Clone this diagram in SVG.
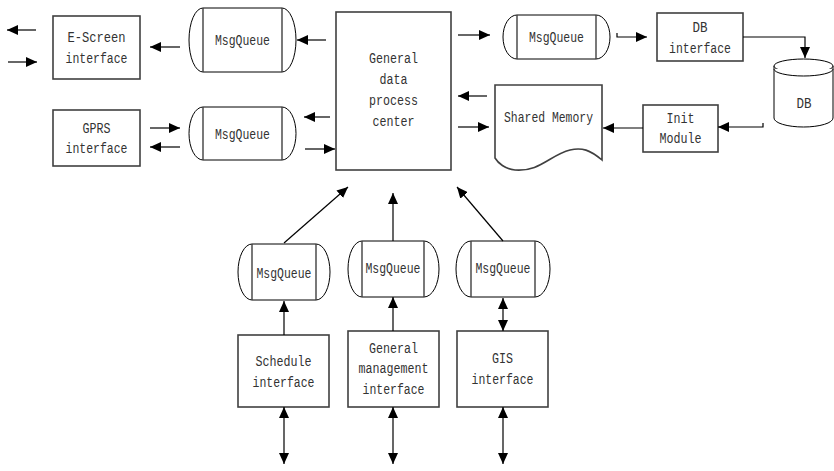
<svg xmlns="http://www.w3.org/2000/svg" width="834" height="471" viewBox="0 0 834 471">
<style>
.box{fill:#fff;stroke:#404040;stroke-width:1.6}
.q{fill:#fff;stroke:#000;stroke-width:1}
.qi{stroke:#404040;stroke-width:1.4}
.c{fill:none;stroke:#000;stroke-width:1.2}
text{font-family:"Liberation Mono","DejaVu Sans Mono",monospace;font-size:15.5px;fill:#333;text-anchor:middle}
</style>
<defs>
<marker id="ah" viewBox="0 0 11 10" refX="11" refY="5" markerWidth="11" markerHeight="10" markerUnits="userSpaceOnUse" orient="auto-start-reverse">
<path d="M0,0 L11,5 L0,10 Z" fill="#000"/>
</marker>
</defs>
<rect width="834" height="471" fill="#fff"/>

<g id="escreen">
<rect class="box" x="53" y="16" width="87" height="63"/>
<text x="96.5" y="42" textLength="58" lengthAdjust="spacingAndGlyphs">E-Screen</text>
<text x="96.5" y="63" textLength="62" lengthAdjust="spacingAndGlyphs">interface</text>
</g>
<g id="gprs">
<rect class="box" x="53" y="110" width="87" height="56"/>
<text x="96.5" y="133" textLength="28" lengthAdjust="spacingAndGlyphs">GPRS</text>
<text x="96.5" y="153" textLength="62" lengthAdjust="spacingAndGlyphs">interface</text>
</g>
<g id="mq1">
<path class="q" d="M203,8 H282 A14,32 0 0 1 282,72 H203 A14,32 0 0 1 203,8 Z"/>
<path class="qi" d="M203,8 V72 M282,8 V72"/>
<text x="242.5" y="45" textLength="55" lengthAdjust="spacingAndGlyphs">MsgQueue</text>
</g>
<g id="mq2">
<path class="q" d="M203,107 H282 A14,26.5 0 0 1 282,160 H203 A14,26.5 0 0 1 203,107 Z"/>
<path class="qi" d="M203,107 V160 M282,107 V160"/>
<text x="242.5" y="139" textLength="55" lengthAdjust="spacingAndGlyphs">MsgQueue</text>
</g>
<g id="center">
<rect class="box" x="336" y="12" width="115" height="158"/>
<text x="393.5" y="63" textLength="49" lengthAdjust="spacingAndGlyphs">General</text>
<text x="393.5" y="84" textLength="28" lengthAdjust="spacingAndGlyphs">data</text>
<text x="393.5" y="105" textLength="49" lengthAdjust="spacingAndGlyphs">process</text>
<text x="393.5" y="126" textLength="42" lengthAdjust="spacingAndGlyphs">center</text>
</g>
<g id="mq3">
<path class="q" d="M517,15 H596 A14,22 0 0 1 596,59 H517 A14,22 0 0 1 517,15 Z"/>
<path class="qi" d="M517,15 V59 M596,15 V59"/>
<text x="556.5" y="42" textLength="55" lengthAdjust="spacingAndGlyphs">MsgQueue</text>
</g>
<g id="sharedmem">
<path class="box" d="M495,85 H602 V160 C590,150 582,147 570,150 C550,155 540,172 515,170 C505,169 498,163 495,158 Z"/>
<text x="548.5" y="122" textLength="89" lengthAdjust="spacingAndGlyphs">Shared Memory</text>
</g>
<g id="dbif">
<rect class="box" x="657" y="13" width="86" height="48"/>
<text x="700" y="32" textLength="15" lengthAdjust="spacingAndGlyphs">DB</text>
<text x="700" y="53" textLength="62" lengthAdjust="spacingAndGlyphs">interface</text>
</g>
<g id="db">
<path class="q" d="M774,66 V118 A29.5,9 0 0 0 833,118 V66"/>
<ellipse class="q" cx="803.5" cy="66" rx="29.5" ry="7"/>
<path class="q" fill="none" d="M774,69 A29.5,7 0 0 0 833,69"/>
<text x="804" y="108" textLength="15" lengthAdjust="spacingAndGlyphs">DB</text>
</g>
<g id="init">
<rect class="box" x="643" y="105" width="75" height="47"/>
<text x="680.5" y="123" textLength="28" lengthAdjust="spacingAndGlyphs">Init</text>
<text x="680.5" y="143" textLength="42" lengthAdjust="spacingAndGlyphs">Module</text>
</g>
<g id="mq4">
<path class="q" d="M252,244 H316 A14,28 0 0 1 316,300 H252 A14,28 0 0 1 252,244 Z"/>
<path class="qi" d="M252,244 V300 M316,244 V300"/>
<text x="284" y="278" textLength="55" lengthAdjust="spacingAndGlyphs">MsgQueue</text>
</g>
<g id="mq5">
<path class="q" d="M362,241 H424 A15,28 0 0 1 424,297 H362 A14,28 0 0 1 362,241 Z"/>
<path class="qi" d="M362,241 V297 M424,241 V297"/>
<text x="393" y="273" textLength="55" lengthAdjust="spacingAndGlyphs">MsgQueue</text>
</g>
<g id="mq6">
<path class="q" d="M471,241 H535 A15,28 0 0 1 535,297 H471 A15,28 0 0 1 471,241 Z"/>
<path class="qi" d="M471,241 V297 M535,241 V297"/>
<text x="503" y="273" textLength="55" lengthAdjust="spacingAndGlyphs">MsgQueue</text>
</g>
<g id="schedule">
<rect class="box" x="238" y="335" width="91" height="72"/>
<text x="283.5" y="366" textLength="56" lengthAdjust="spacingAndGlyphs">Schedule</text>
<text x="283.5" y="387" textLength="62" lengthAdjust="spacingAndGlyphs">interface</text>
</g>
<g id="genmgmt">
<rect class="box" x="348" y="331" width="91" height="76"/>
<text x="393.5" y="353" textLength="49" lengthAdjust="spacingAndGlyphs">General</text>
<text x="393.5" y="373" textLength="70" lengthAdjust="spacingAndGlyphs">management</text>
<text x="393.5" y="394" textLength="62" lengthAdjust="spacingAndGlyphs">interface</text>
</g>
<g id="gis">
<rect class="box" x="457" y="331" width="91" height="76"/>
<text x="502.5" y="363" textLength="21" lengthAdjust="spacingAndGlyphs">GIS</text>
<text x="502.5" y="384" textLength="62" lengthAdjust="spacingAndGlyphs">interface</text>
</g>

<g id="connectors">
<path class="c" marker-end="url(#ah)" d="M36,30 H7"/>
<path class="c" marker-end="url(#ah)" d="M8,62 H37"/>
<path class="c" marker-end="url(#ah)" d="M180,47 H150"/>
<path class="c" marker-end="url(#ah)" d="M326,40 H297"/>
<path class="c" marker-end="url(#ah)" d="M150,128 H180"/>
<path class="c" marker-end="url(#ah)" d="M180,147 H150"/>
<path class="c" marker-end="url(#ah)" d="M330,117 H304"/>
<path class="c" marker-end="url(#ah)" d="M305,149 H335"/>
<path class="c" marker-end="url(#ah)" d="M458,35 H490"/>
<path class="c" marker-end="url(#ah)" d="M487,96 H458"/>
<path class="c" marker-end="url(#ah)" d="M458,127 H489"/>
<path class="c" marker-end="url(#ah)" d="M617,33 V37 H647"/>
<path class="c" marker-end="url(#ah)" d="M743,37 H805 V58"/>
<path class="c" marker-end="url(#ah)" d="M763,123 V127 H718"/>
<path class="c" marker-end="url(#ah)" d="M643,128 H603"/>
<path class="c" marker-end="url(#ah)" d="M284,243 L348,187"/>
<path class="c" marker-end="url(#ah)" d="M393,241 V193"/>
<path class="c" marker-end="url(#ah)" d="M503,241 L457,187"/>
<path class="c" marker-end="url(#ah)" d="M284,335 V301"/>
<path class="c" marker-end="url(#ah)" d="M393,331 V297"/>
<path class="c" marker-start="url(#ah)" marker-end="url(#ah)" d="M503,298 V331"/>
<path class="c" marker-start="url(#ah)" marker-end="url(#ah)" d="M284,407 V464"/>
<path class="c" marker-start="url(#ah)" marker-end="url(#ah)" d="M393,407 V464"/>
<path class="c" marker-start="url(#ah)" marker-end="url(#ah)" d="M503,407 V464"/>
</g>
</svg>
